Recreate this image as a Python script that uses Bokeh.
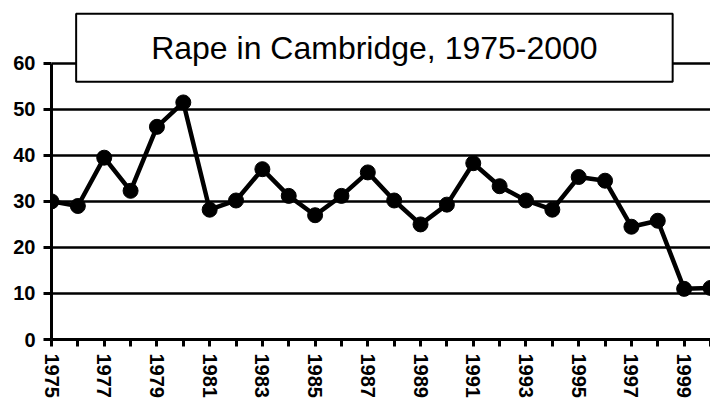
from bokeh.plotting import figure
from bokeh.models import FixedTicker, Range1d, Label
from bokeh.embed import file_html
from bokeh.resources import INLINE

years = list(range(1975, 2001))
rapes = [30, 29, 39.5, 32.3, 46.2, 51.5, 28.2, 30.2, 37, 31.2, 27, 31.2, 36.3,
         30.2, 25, 29.3, 38.3, 33.3, 30.2, 28.2, 35.3, 34.5, 24.5, 25.8, 11, 11.2]
y_ticks = [0, 10, 20, 30, 40, 50, 60]
title_text = "Rape in Cambridge, 1975-2000"

p = figure(width=710, height=400, output_backend="svg", toolbar_location=None,
           x_range=Range1d(1975, 2000), y_range=Range1d(0, 72.56),
           min_border_left=51, min_border_top=5, min_border_right=0,
           min_border_bottom=0)
p.title.visible = False
p.outline_line_color = None
p.background_fill_color = "white"
p.border_fill_color = "white"

p.xgrid.visible = False
p.ygrid.ticker = FixedTicker(ticks=y_ticks)
p.ygrid.grid_line_color = "black"
p.ygrid.grid_line_width = 2.5

for ax in (p.xaxis[0], p.yaxis[0]):
    ax.axis_line_color = "black"
    ax.axis_line_width = 3
    ax.major_tick_line_color = "black"
    ax.major_tick_line_width = 3
    ax.major_tick_in = 0
    ax.minor_tick_line_color = None
    ax.major_label_text_font = "Liberation Sans"
    ax.major_label_text_font_style = "bold"
    ax.major_label_text_font_size = "20px"
    ax.major_label_text_color = "black"

p.xaxis.ticker = FixedTicker(ticks=years)
p.xaxis.major_label_overrides = {y: (str(y) if y % 2 == 1 else "") for y in years}
p.xaxis.major_label_orientation = "vertical"
p.xaxis.major_tick_out = 7
p.xaxis.major_label_standoff = 7

p.yaxis.ticker = FixedTicker(ticks=y_ticks)
p.yaxis.bounds = (0, 60)
p.yaxis.major_tick_out = 8
p.yaxis.major_label_standoff = 8

p.line(years, rapes, line_color="black", line_width=4.5)
p.scatter(years, rapes, size=15, fill_color="black", line_color="black")

title = Label(x=1987.25, y=63.36, text=title_text, anchor="center",
              text_font="Liberation Sans", text_font_size="32px",
              text_color="black", background_fill_color="white",
              border_line_color="black", border_line_width=2,
              padding=dict(left=75, right=75, top=16, bottom=16))
p.add_layout(title)

open("out.html", "w").write(file_html(p, INLINE))
